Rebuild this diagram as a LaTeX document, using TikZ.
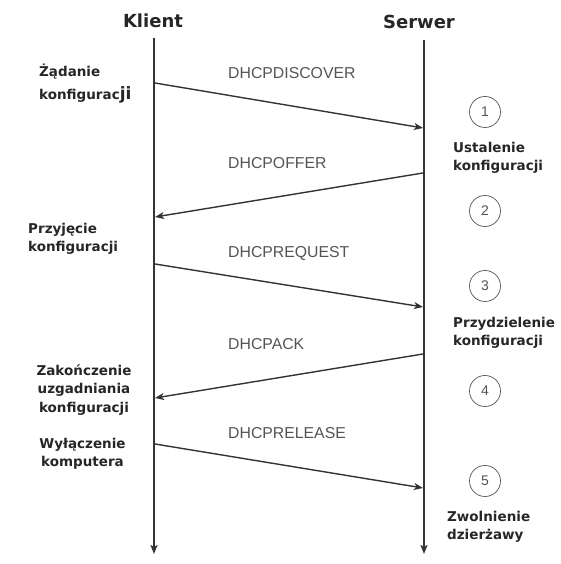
\documentclass[tikz,border=0pt]{standalone}
\usepackage{fontspec}
\setmainfont{Liberation Sans}
\newfontfamily\lblfont{DejaVu Sans}
\usetikzlibrary{arrows.meta,positioning}
\definecolor{linecol}{rgb}{0.2,0.2,0.2}
\definecolor{msgcol}{rgb}{0.33,0.33,0.33}
\definecolor{lblcol}{rgb}{0.15,0.15,0.15}
\tikzset{
  title/.style={font=\lblfont\bfseries\fontsize{18}{21}\selectfont,text=lblcol,inner sep=0pt},
  lbl/.style={font=\lblfont\bfseries\fontsize{13.5}{18.5}\selectfont,text=lblcol,inner sep=0pt},
  msglbl/.style={font=\fontsize{15.8}{18}\selectfont,text=msgcol,inner sep=0pt,anchor=west},
  stepnum/.style={draw=msgcol,circle,minimum size=31pt,inner sep=0pt,
    font=\fontsize{14}{16}\selectfont,text=msgcol,line width=0.7pt},
  lifeline/.style={draw=linecol,line width=2pt,-{Stealth[length=9pt,width=7pt,inset=2pt]}},
  msg/.style={draw=linecol,line width=1.4pt,-{Stealth[length=9pt,width=7pt,inset=2.5pt]}},
}
\begin{document}
\begin{tikzpicture}[x=1pt,y=1pt]
\useasboundingbox (0,0) rectangle (560,564);
%
  \node (klient) at (153,543) [title] {Klient};
  \node (serwer) at (419,542) [title] {Serwer};
  \coordinate (ctop) at (154,526);
  \coordinate (cbot) at (154,10);
  \coordinate (stop) at (424,524);
  \coordinate (sbot) at (424,10);
  \draw [lifeline] (ctop) -- (cbot);
  \draw [lifeline] (stop) -- (sbot);
%
  \coordinate (c1) at (155,481);
  \coordinate (s1) at (423,436);
  \coordinate (s2) at (423,391);
  \coordinate (c2) at (155,347);
  \coordinate (c3) at (155,300);
  \coordinate (s3) at (423,257);
  \coordinate (s4) at (423,210);
  \coordinate (c4) at (155,166);
  \coordinate (c5) at (155,120);
  \coordinate (s5) at (423,76);
  \draw [msg] (c1) -- (s1);
  \draw [msg] (s2) -- (c2);
  \draw [msg] (c3) -- (s3);
  \draw [msg] (s4) -- (c4);
  \draw [msg] (c5) -- (s5);
  \node (m1) at (228,491) [msglbl] {DHCPDISCOVER};
  \node (m2) at (228,401) [msglbl] {DHCPOFFER};
  \node (m3) at (228,311) [msglbl] {DHCPREQUEST};
  \node (m4) at (228,220) [msglbl] {DHCPACK};
  \node (m5) at (228,131) [msglbl] {DHCPRELEASE};
%
  \node (n1) at (485,452) [stepnum] {1};
  \node (n2) at (485,353) [stepnum] {2};
  \node (n3) at (485,278) [stepnum] {3};
  \node (n4) at (485,173) [stepnum] {4};
  \node (n5) at (485,83) [stepnum] {5};
%
  \node (zad) at (39,480) [lbl,anchor=west,align=left,font=\lblfont\bfseries\fontsize{13.5}{23}\selectfont]
    {Żądanie\\konfigurac{\fontsize{17}{23}\selectfont ji}};
  \node (przyj) at (28,325) [lbl,anchor=west,align=left] {Przyjęcie\\konfiguracji};
  \node (zak) at (84,174) [lbl,align=center] {Zakończenie\\uzgadniania\\konfiguracji};
  \node (wyl) at (82.5,110) [lbl,align=center] {Wyłączenie\\komputera};
  \node (ust) at (453,406) [lbl,anchor=west,align=left] {Ustalenie\\konfiguracji};
  \node (przyd) at (453,231) [lbl,anchor=west,align=left] {Przydzielenie\\konfiguracji};
  \node (zwol) at (447,37) [lbl,anchor=west,align=left] {Zwolnienie\\dzierżawy};
%
\end{tikzpicture}
\end{document}
